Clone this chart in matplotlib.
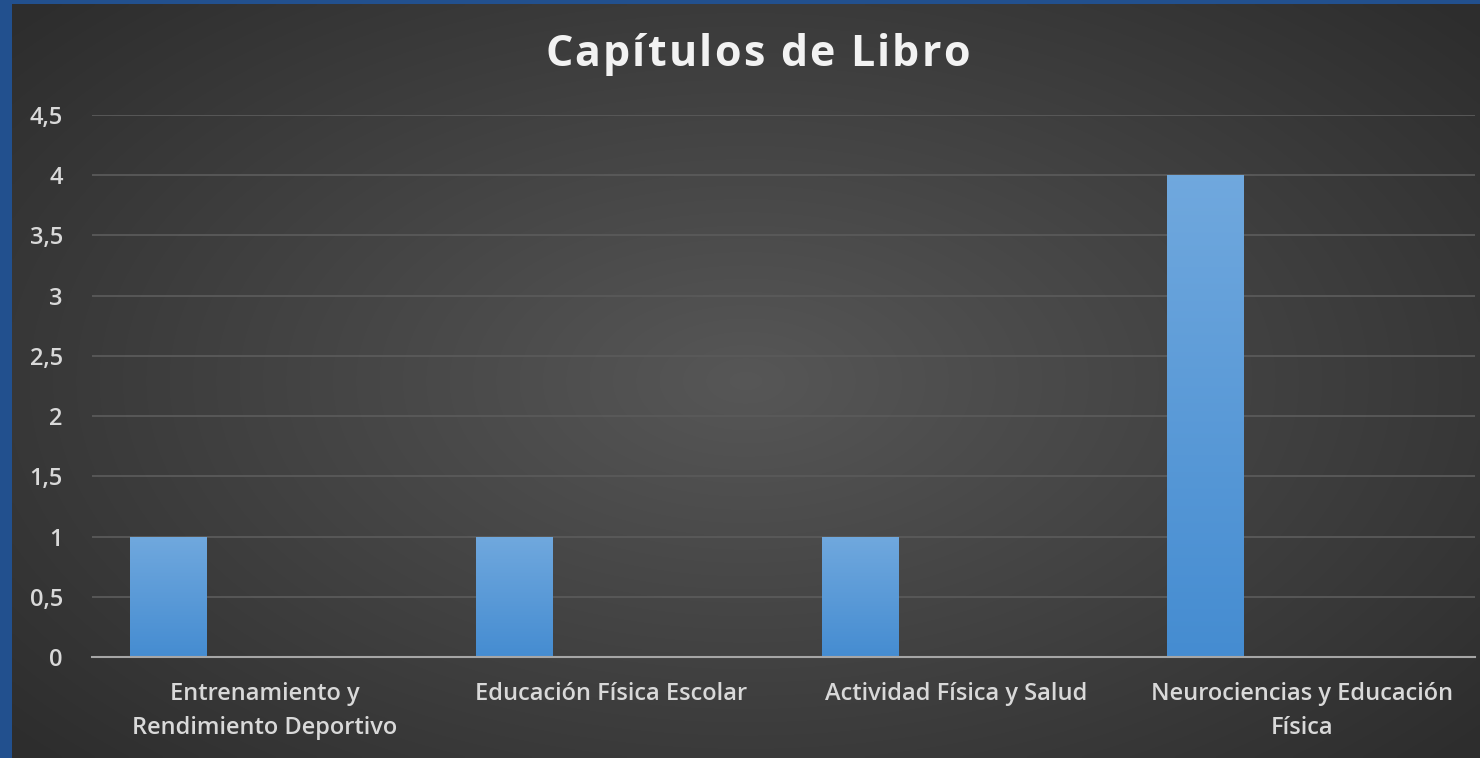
import numpy as np
import matplotlib
matplotlib.use("Agg")
import matplotlib.pyplot as plt
from matplotlib.ticker import FuncFormatter

categories = ["Entrenamiento y\nRendimiento Deportivo", "Educación Física Escolar",
              "Actividad Física y Salud", "Neurociencias y Educación\nFísica"]
values = [1, 1, 1, 4]
yticks = [0, 0.5, 1, 1.5, 2, 2.5, 3, 3.5, 4, 4.5]
title = "Capítulos de Libro"

plt.rcParams['font.family'] = ['Open Sans', 'DejaVu Sans']
text_color = "#d9d9d9"

W, H = 1480, 758
fig = plt.figure(figsize=(W / 100, H / 100), dpi=100)
fig.patch.set_facecolor("#22508e")

# dark radial gradient background (blue frame on left and top)
bg = fig.add_axes([12 / W, 0, 1 - 12 / W, 1 - 4 / H], zorder=0)
gx, gy = np.meshgrid(np.linspace(-1, 1, 400), np.linspace(-1, 1, 200))
r = np.sqrt(gx ** 2 + (gy * 0.9) ** 2)
shade = 0.34 - 0.16 * np.clip(r, 0, 1.3) / 1.3
img = np.dstack([shade, shade, shade])
bg.imshow(img, aspect="auto", extent=[0, 1, 0, 1], interpolation="bilinear")
bg.axis("off")

ax = fig.add_axes([92 / W, 1 - 657 / H, (1475 - 92) / W, (657 - 115) / H], zorder=1)
ax.patch.set_alpha(0)

x = np.arange(len(categories))
bars = ax.bar(x - 0.2785, values, width=0.2227, color="#5b9bd5", zorder=3)

# vertical gradient on each bar
grad = np.linspace(0, 1, 256).reshape(-1, 1)
top_c = np.array([0.44, 0.66, 0.87])
bot_c = np.array([0.27, 0.55, 0.82])
gimg = bot_c + (top_c - bot_c) * grad
gimg = np.repeat(gimg[:, None, :], 2, axis=1)
for b in bars:
    x0, w, h = b.get_x(), b.get_width(), b.get_height()
    im = ax.imshow(gimg, extent=[x0, x0 + w, 0, h], origin="lower",
                   aspect="auto", zorder=4)
    im.set_clip_path(b)

ax.set_xlim(-0.5, 3.5)
ax.set_ylim(0, 4.5)
ax.set_yticks(yticks)
ax.yaxis.set_major_formatter(FuncFormatter(lambda v, p: f"{v:g}".replace(".", ",")))
ax.set_xticks(x)
ax.set_xticklabels(categories, linespacing=1.55)
ax.tick_params(axis="both", length=0, colors=text_color, labelsize=17)
for lab in ax.get_xticklabels() + ax.get_yticklabels():
    lab.set_fontweight("semibold")
ax.tick_params(axis="y", pad=21)
ax.tick_params(axis="x", pad=18)
ax.grid(axis="y", color="#5a5a5a", linewidth=1.3, zorder=1)
for s in ["top", "right", "left"]:
    ax.spines[s].set_visible(False)
ax.spines["bottom"].set_color("#a6a6a6")
ax.spines["bottom"].set_linewidth(1.5)
ax.spines["bottom"].set_zorder(5)


# title with letter spacing (placed char by char)
def tracked_text(s, xc, y, spacing, **kw):
    rend = fig.canvas.get_renderer()

    def width(txt):
        t = fig.text(0, 0, txt, **kw)
        w = t.get_window_extent(rend).width
        t.remove()
        return w

    bar_w = width("|")
    offs = [width(s[:i] + "|") - bar_w if i else 0 for i in range(len(s))]
    total = width(s) + spacing * (len(s) - 1)
    left = xc - total / 2
    for i, ch in enumerate(s):
        if ch != " ":
            fig.text((left + offs[i] + i * spacing) / W, 1 - y / H, ch,
                     ha="left", va="center", **kw)


tracked_text(title, 757, 55, 2.2, fontsize=31, fontweight="bold", color="#f2f2f2")

fig.savefig("out.png", dpi=100, facecolor=fig.get_facecolor())
